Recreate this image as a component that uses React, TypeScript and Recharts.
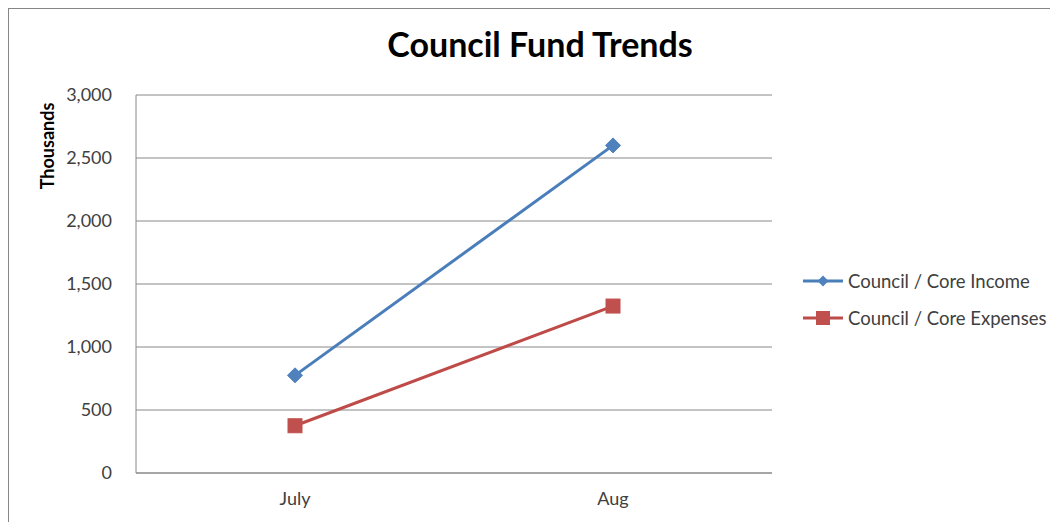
// Council Fund Trends - income vs expenses line chart

import React from 'react';
import { CartesianGrid, Line, LineChart, XAxis, YAxis } from 'recharts';

const months = ['July', 'Aug'];
const incomeValues = [775, 2600];
const expenseValues = [375, 1325];
const yTicks = [0, 500, 1000, 1500, 2000, 2500, 3000];

const INCOME = { line: '#4A7EBB', mark: '#4F81BD', name: 'Council / Core Income' };
const EXPENSE = { line: '#BE4B48', mark: '#C0504D', name: 'Council / Core Expenses' };

const FONT = 'Lato, "Open Sans", sans-serif';
const GRID = '#888888';

const data = months.map((m, i) => ({
  month: m,
  income: incomeValues[i],
  expenses: expenseValues[i],
}));

function Diamond(props: any) {
  const { cx, cy } = props;
  if (cx == null || cy == null) return null;
  const r = 7.5;
  return (
    <polygon
      key={`d-${cx}`}
      points={`${cx},${cy - r} ${cx + r},${cy} ${cx},${cy + r} ${cx - r},${cy}`}
      fill={INCOME.mark}
      stroke={INCOME.mark}
    />
  );
}

function Square(props: any) {
  const { cx, cy } = props;
  if (cx == null || cy == null) return null;
  const s = 14;
  return (
    <rect
      key={`s-${cx}`}
      x={cx - s / 2}
      y={cy - s / 2}
      width={s}
      height={s}
      fill={EXPENSE.mark}
      stroke={EXPENSE.mark}
    />
  );
}

// legend drawn beside the plot, like the Excel original
function LegendBox() {
  const rows = [
    { ...INCOME, shape: 'diamond' },
    { ...EXPENSE, shape: 'square' },
  ];
  return (
    <div style={{ position: 'absolute', left: 794, top: 253 }}>
      {rows.map((r) => (
        <div
          key={r.name}
          style={{
            display: 'flex',
            alignItems: 'center',
            height: 37,
            fontFamily: FONT,
            fontSize: 18.5,
            color: '#404040',
            whiteSpace: 'nowrap',
          }}
        >
          <svg width={45} height={20} style={{ marginRight: 0 }}>
            <line x1={0} y1={10} x2={40} y2={10} stroke={r.line} strokeWidth={3} />
            {r.shape === 'diamond' ? (
              <polygon points="20,4.5 25.5,10 20,15.5 14.5,10" fill={r.mark} />
            ) : (
              <rect x={13} y={3} width={14} height={14} fill={r.mark} />
            )}
          </svg>
          <span>{r.name}</span>
        </div>
      ))}
    </div>
  );
}

export default function App() {
  return (
    <div style={{ width: 1050, height: 514, overflow: 'hidden' }}>
      <div
        style={{
          position: 'relative',
          width: 1060,
          height: 530,
          border: '1px solid #868686',
          background: '#fff',
        }}
      >
        <div
          style={{
            position: 'absolute',
            left: 231,
            top: 18,
            width: 600,
            textAlign: 'center',
            fontFamily: FONT,
            fontWeight: 700,
            fontSize: 34,
            lineHeight: 1,
            color: '#000',
          }}
        >
          Council Fund Trends
        </div>
        <div
          style={{
            position: 'absolute',
            left: 38 - 60,
            top: 137 - 11,
            width: 120,
            height: 22,
            lineHeight: '22px',
            textAlign: 'center',
            transform: 'rotate(-90deg)',
            fontFamily: FONT,
            fontWeight: 700,
            fontSize: 18,
            color: '#000',
          }}
        >
          Thousands
        </div>
        <LineChart
          width={1060}
          height={520}
          data={data}
          margin={{ top: 86, right: 297, left: 27, bottom: 16 }}
        >
          <CartesianGrid vertical={false} stroke={GRID} strokeWidth={1} />
          <XAxis
            dataKey="month"
            height={40}
            padding={{ left: 159, right: 159 }}
            tickLine={false}
            tickSize={0}
            tickMargin={19}
            axisLine={{ stroke: GRID }}
            tick={{ fill: '#404040', fontSize: 18, fontFamily: FONT }}
          />
          <YAxis
            width={100}
            domain={[0, 3000]}
            ticks={yTicks}
            interval={0}
            tickLine={false}
            tickSize={0}
            tickMargin={24}
            axisLine={{ stroke: GRID }}
            tickFormatter={(v: number) => v.toLocaleString('en-US')}
            tick={{ fill: '#404040', fontSize: 18, fontFamily: FONT }}
          />
          <Line
            dataKey="income"
            name={INCOME.name}
            stroke={INCOME.line}
            strokeWidth={3}
            dot={<Diamond />}
            activeDot={false}
            isAnimationActive={false}
          />
          <Line
            dataKey="expenses"
            name={EXPENSE.name}
            stroke={EXPENSE.line}
            strokeWidth={3}
            dot={<Square />}
            activeDot={false}
            isAnimationActive={false}
          />
        </LineChart>
        <LegendBox />
      </div>
    </div>
  );
}
